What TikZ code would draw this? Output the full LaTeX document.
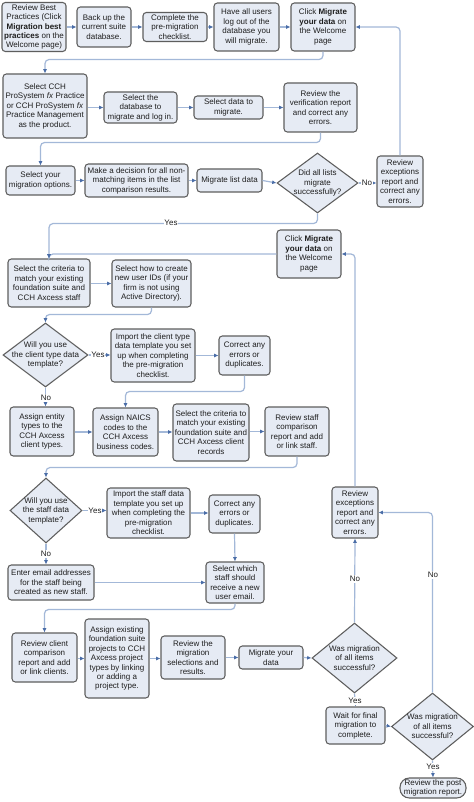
\documentclass[tikz,border=0pt]{standalone}
\usepackage{fontspec}
\setmainfont{Liberation Sans}
\usetikzlibrary{arrows.meta,shapes.geometric}
\definecolor{boxfill}{HTML}{E6EBF4}
\definecolor{boxdraw}{HTML}{5E5E5E}
\definecolor{linec}{HTML}{A3B8D8}
\definecolor{tipc}{HTML}{4A6DA7}
\definecolor{txtc}{HTML}{1E1E1E}
\tikzset{
  box/.style={draw=boxdraw, fill=boxfill, line width=0.8pt, rounded corners=2.5pt, align=center, inner sep=1pt, font=\fontsize{6}{7.1}\selectfont, text=txtc},
  dia/.style={diamond, draw=boxdraw, fill=boxfill, line width=0.8pt, inner sep=0pt, aspect=1},
  dtxt/.style={align=center, inner sep=0pt, font=\fontsize{6}{7.1}\selectfont, text=txtc},
  conn/.style={draw=linec, line width=0.9pt, rounded corners=3pt, -{Latex[length=3.2pt,width=3pt,color=tipc]}},
  lab/.style={fill=white, inner sep=0.6pt, font=\fontsize{6}{7.1}\selectfont, text=txtc}
}
\newcommand\mybox[6]{\node[box,minimum width=#4*0.75pt,minimum height=#5*0.75pt] (#1) at (#2,#3) {#6};}
\newcommand\mydia[6]{\node[dia,minimum width=#4*0.75pt,minimum height=#5*0.75pt] (#1) at (#2,#3) {}; \node[dtxt] at (#1) {#6};}
\begin{document}
\begin{tikzpicture}[x=0.75pt,y=-0.75pt]
\path[use as bounding box, fill=white] (0,0) rectangle (474,802);
% row 1
\mybox{b1}{34}{27}{64}{49}{Review Best\\Practices (Click\\\textbf{Migration best}\\\textbf{practices} on the\\Welcome page)}
\mybox{b2}{104}{27}{54}{40}{Back up the\\current suite\\database.}
\mybox{b3}{175}{27}{64}{29}{Complete the\\pre-migration\\checklist.}
\mybox{b4}{246.5}{27}{65}{48}{Have all users\\log out of the\\database you\\will migrate.}
\mybox{b5}{323}{27}{64}{48}{Click \textbf{Migrate}\\\textbf{your data} on\\the Welcome\\page}
% row 2
\mybox{b6}{45}{106}{84}{64}{Select CCH\\ProSystem \textit{fx} Practice\\or CCH ProSystem \textit{fx}\\Practice Management\\as the product.}
\mybox{b7}{140.5}{107.5}{73}{31}{Select the\\database to\\migrate and log in.}
\mybox{b8}{228.5}{107.5}{69}{23}{Select data to\\migrate.}
\mybox{b9}{320.5}{107.5}{73}{49}{Review the\\verification report\\and correct any\\errors.}
% row 3
\mybox{b10}{40.5}{180.5}{69}{29}{Select your\\migration options.}
\mybox{b11}{136.5}{180.5}{103}{33}{Make a decision for all non-\\matching items in the list\\comparison results.}
\mybox{b12}{229.5}{180.5}{65}{23}{Migrate list data}
\mydia{d1}{317.5}{183}{81}{60}{Did all lists\\migrate\\successfully?}
\mybox{e1}{400}{181.5}{46}{51}{Review\\exceptions\\report and\\correct any\\errors.}
\mybox{b13}{309}{254}{64}{48}{Click \textbf{Migrate}\\\textbf{your data} on\\the Welcome\\page}
% row 4
\mybox{b14}{49}{283}{82}{48}{Select the criteria to\\match your existing\\foundation suite and\\CCH Axcess staff}
\mybox{b15}{151.5}{283.5}{79}{47}{Select how to create\\new user IDs (if your\\firm is not using\\Active Directory).}
% row 5
\mydia{d2}{45.5}{355}{85}{64}{Will you use\\the client type data\\template?}
\mybox{b16}{153}{355.5}{84}{53}{Import the client type\\data template you set\\up when completing\\the pre-migration\\checklist.}
\mybox{b17}{244.5}{355.5}{51}{39}{Correct any\\errors or\\duplicates.}
% row 6
\mybox{b18}{42}{431.5}{64}{49}{Assign entity\\types to the\\CCH Axcess\\client types.}
\mybox{b19}{125.5}{432}{65}{48}{Assign NAICS\\codes to the\\CCH Axcess\\business codes.}
\mybox{b20}{211}{432.5}{76}{57}{Select the criteria to\\match your existing\\foundation suite and\\CCH Axcess client\\records}
\mybox{b21}{297}{431.5}{64}{49}{Review staff\\comparison\\report and add\\or link staff.}
% row 7
\mydia{d3}{46}{510.5}{72}{65}{Will you use\\the staff data\\template?}
\mybox{b22}{148.5}{513}{83}{50}{Import the staff data\\template you set up\\when completing the\\pre-migration\\checklist.}
\mybox{b23}{234.5}{514}{51}{38}{Correct any\\errors or\\duplicates.}
\mybox{e2}{355}{512.5}{46}{51}{Review\\exceptions\\report and\\correct any\\errors.}
\mybox{b25}{51}{582.5}{86}{35}{Enter email addresses\\for the staff being\\created as new staff.}
\mybox{b24}{235}{582.5}{58}{41}{Select which\\staff should\\receive a new\\user email.}
% row 8
\mybox{b26}{44.5}{657.5}{65}{49}{Review client\\comparison\\report and add\\or link clients.}
\mybox{b27}{117}{658.5}{64}{79}{Assign existing\\foundation suite\\projects to CCH\\Axcess project\\types by linking\\or adding a\\project type.}
\mybox{b28}{193}{657.5}{64}{43}{Review the\\migration\\selections and\\results.}
\mybox{b29}{271}{657.5}{64}{23}{Migrate your\\data}
\mydia{d4}{354.5}{658}{85}{70}{Was migration\\of all items\\successful?}
\mybox{b30}{355.5}{725.5}{59}{37}{Wait for final\\migration to\\complete.}
\mydia{d5}{432.5}{726.5}{82}{67}{Was migration\\of all items\\successful?}
\node[box, rounded corners=7pt, minimum width=66*0.75pt, minimum height=20*0.75pt] (b31) at (433,788) {Review the post\\migration report.};
% connectors
\draw[conn] (b1.east) -- (b2.west);
\draw[conn] (b2.east) -- (b3.west);
\draw[conn] (b3.east) -- (b4.west);
\draw[conn] (b4.east) -- (b5.west);
\draw[conn] (b5.south) -- ++(0,8) -| (b6.north);
\draw[conn] (b6.east |- b7) -- (b7.west);
\draw[conn] (b7.east) -- (b8.west);
\draw[conn] (b8.east) -- (b9.west);
\draw[conn] (b9.south) -- ++(0,10) -| (b10.north);
\draw[conn] (b10.east) -- (b11.west);
\draw[conn] (b11.east) -- (b12.west);
\draw[conn] (b12.east) -- (d1.west);
\draw[conn] (d1.east) -- (e1.west |- d1.east);
\draw[conn] (e1.north) |- (b5.east);
\draw[conn] (d1.south) -- ++(0,10) -| (b14.north);
\draw[conn] (b13.west) -| (b14.north);
\draw[conn] (e2.north) |- (b13.east);
\draw[conn] (b14.east |- b15) -- (b15.west);
\draw[conn] (b15.south) -- ++(0,7) -| (d2.north);
\draw[conn] (d2.east) -- (b16.west |- d2.east);
\draw[conn] (b16.east) -- (b17.west);
\draw[conn] (b17.south) -- ++(0,16) -| (b19.north);
\draw[conn] (d2.south) -- (d2.south |- b18.north);
\draw[conn] (b18.east |- b19) -- (b19.west);
\draw[conn] (b19.east) -- (b20.west |- b19);
\draw[conn] (b20.east |- b21) -- (b21.west);
\draw[conn] (b21.south) -- ++(0,11) -| (d3.north);
\draw[conn] (d3.east) -- (b22.west |- d3.east);
\draw[conn] (b22.east) -- (b23.west |- b22.east);
\draw[conn] (b23.south) -- (b24.north);
\draw[conn] (d3.south) -- (d3.south |- b25.north);
\draw[conn] (b25.east) -- (b24.west);
\draw[conn] (b24.south) -- ++(0,6) -| (b26.north);
\draw[conn] (b26.east |- b27) -- (b27.west);
\draw[conn] (b27.east) -- (b28.west |- b27.east);
\draw[conn] (b28.east) -- (b29.west);
\draw[conn] (b29.east) -- (d4.west);
\draw[conn] (d4.north) -- (e2.south);
\draw[conn] (d4.south) -- (b30.north);
\draw[conn] (b30.east) -- (d5.west);
\draw[conn] (d5.north) |- (e2.east);
\draw[conn] (d5.south) -- (b31.north);
% labels
\node[lab] (l1) at (367,183) {No};
\node[lab] (l2) at (171,223) {Yes};
\node[lab] (l3) at (98,355) {Yes};
\node[lab] (l4) at (46,398) {No};
\node[lab] (l5) at (95,510.5) {Yes};
\node[lab] (l6) at (46,554) {No};
\node[lab] (l7) at (355,579) {No};
\node[lab] (l8) at (433,575) {No};
\node[lab] (l9) at (355,701) {Yes};
\node[lab] (l10) at (433,767) {Yes};
\end{tikzpicture}
\end{document}
